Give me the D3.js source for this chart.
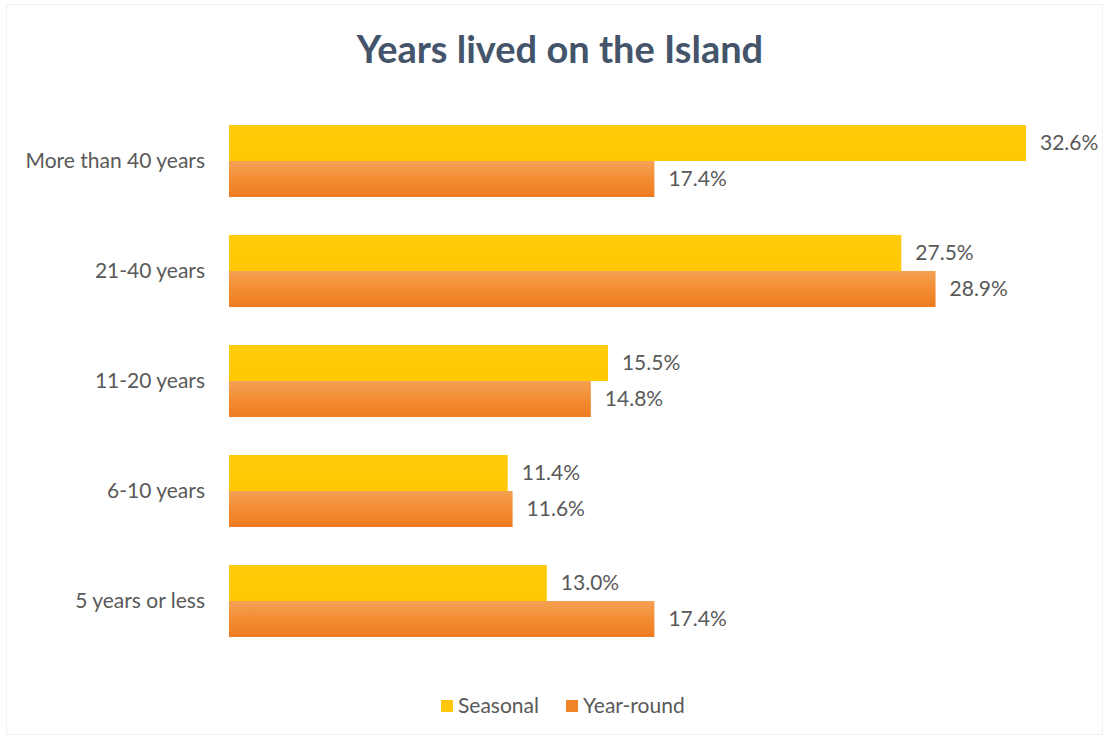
<!DOCTYPE html>
<html>
<head>
<meta charset="utf-8">
<script src="https://cdn.jsdelivr.net/npm/d3@7"></script>
<style>
  html, body { margin: 0; padding: 0; background: #ffffff; }
  svg { display: block; }
  text { font-family: Lato, "Open Sans", "Liberation Sans", sans-serif; }
</style>
</head>
<body>
<svg id="chart" width="1107" height="738"></svg>
<script>
// Survey responses: years lived on the Island, by resident type (percent)
const categories = ["More than 40 years", "21-40 years", "11-20 years", "6-10 years", "5 years or less"];
const seriesNames = ["Seasonal", "Year-round"];
const seasonal = [32.6, 27.5, 15.5, 11.4, 13.0];
const yearRound = [17.4, 28.9, 14.8, 11.6, 17.4];
const chartTitle = "Years lived on the Island";

const W = 1107, H = 738;
const svg = d3.select("#chart");

// gradient fills
const defs = svg.append("defs");
const gY = defs.append("linearGradient").attr("id", "gradSeasonal")
  .attr("x1", 0).attr("y1", 0).attr("x2", 0).attr("y2", 1);
gY.append("stop").attr("offset", "0%").attr("stop-color", "#FFCB0A");
gY.append("stop").attr("offset", "100%").attr("stop-color", "#FFC800");
const gO = defs.append("linearGradient").attr("id", "gradYearRound")
  .attr("x1", 0).attr("y1", 0).attr("x2", 0).attr("y2", 1);
gO.append("stop").attr("offset", "0%").attr("stop-color", "#F5A153");
gO.append("stop").attr("offset", "55%").attr("stop-color", "#F28B30");
gO.append("stop").attr("offset", "100%").attr("stop-color", "#EE7B20");

const fills = ["url(#gradSeasonal)", "url(#gradYearRound)"];
const swatch = ["#FFC60A", "#F08428"];

// faint outer frame
svg.append("rect")
  .attr("x", 6.5).attr("y", 4.5).attr("width", W - 11).attr("height", H - 8)
  .attr("fill", "#ffffff").attr("stroke", "#f0f0f0").attr("stroke-width", 1);

// title
svg.append("text")
  .attr("x", 560).attr("y", 63)
  .attr("text-anchor", "middle")
  .attr("font-size", 38).attr("font-weight", 700)
  .attr("fill", "#44546A")
  .text(chartTitle);

// scales
const x0 = 229;
const x = d3.scaleLinear().domain([0, 32.6]).range([x0, 1026]);
const y = d3.scaleBand().domain(categories).range([106, 656]).paddingInner(38 / 110).paddingOuter(19 / 110);
const ySub = d3.scaleBand().domain(seriesNames).range([0, y.bandwidth()]);

const rows = categories.map((c, i) => ({ cat: c, vals: [seasonal[i], yearRound[i]] }));

// category axis labels
const yAxis = d3.axisLeft(y).tickSize(0).tickPadding(24);
const axisG = svg.append("g").attr("transform", `translate(${x0},0)`).call(yAxis);
axisG.select(".domain").remove();
axisG.selectAll("text")
  .attr("font-size", 21).attr("fill", "#595959")
  .style("font-family", "Lato, 'Open Sans', sans-serif");

// bars
const groups = svg.append("g").selectAll("g").data(rows).join("g")
  .attr("transform", d => `translate(0,${y(d.cat)})`);

groups.selectAll("rect")
  .data(d => d.vals.map((v, j) => ({ v, s: seriesNames[j], j })))
  .join("rect")
  .attr("x", x(0))
  .attr("y", d => ySub(d.s))
  .attr("width", d => x(d.v) - x(0))
  .attr("height", ySub.bandwidth())
  .attr("fill", d => fills[d.j]);

// value labels
groups.selectAll("text.val")
  .data(d => d.vals.map((v, j) => ({ v, s: seriesNames[j], j })))
  .join("text")
  .attr("class", "val")
  .attr("x", d => x(d.v) + 14)
  .attr("y", d => ySub(d.s) + ySub.bandwidth() / 2)
  .attr("dy", "0.35em")
  .attr("font-size", 21).attr("fill", "#595959")
  .text(d => d.v.toFixed(1) + "%");

// legend
const legend = svg.append("g").attr("transform", "translate(441,706)");
const legendPos = [0, 125];
seriesNames.forEach((name, j) => {
  const g = legend.append("g").attr("transform", `translate(${legendPos[j]},0)`);
  g.append("rect").attr("x", 0).attr("y", -6).attr("width", 12).attr("height", 12).attr("fill", swatch[j]);
  g.append("text").attr("x", 17).attr("y", 0).attr("dy", "0.35em")
    .attr("font-size", 21).attr("fill", "#595959").text(name);
});
</script>
</body>
</html>
